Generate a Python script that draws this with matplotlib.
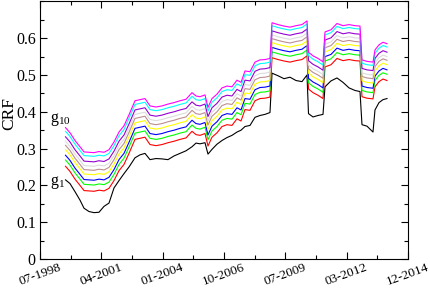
import matplotlib
matplotlib.use("Agg")
import matplotlib.pyplot as plt
import numpy as np
from matplotlib.ticker import MultipleLocator

# time axis (decimal years)
years = [1999.638, 1999.838, 2000.061, 2000.284, 2000.463, 2000.686, 2000.909, 2001.132,
         2001.355, 2001.578, 2001.801, 2002.024, 2002.247, 2002.470, 2002.738, 2002.961,
         2003.184, 2003.407, 2003.675, 2003.942, 2004.210, 2004.478, 2004.745, 2005.013,
         2005.281, 2005.459, 2005.638, 2005.861, 2005.994, 2006.173, 2006.396, 2006.619,
         2006.842, 2007.065, 2007.288, 2007.467, 2007.645, 2007.868, 2008.091, 2008.314,
         2008.537, 2008.760, 2008.850, 2009.117, 2009.385, 2009.653, 2009.920, 2010.188,
         2010.411, 2010.478, 2010.679, 2010.902, 2011.125, 2011.214, 2011.482, 2011.749,
         2012.017, 2012.284, 2012.552, 2012.775, 2012.864, 2013.087, 2013.355, 2013.444,
         2013.623, 2013.801, 2013.980]

g1 = [0.215, 0.205, 0.183, 0.160, 0.138, 0.129, 0.126, 0.127, 0.143, 0.152, 0.193, 0.213,
      0.232, 0.250, 0.275, 0.283, 0.287, 0.270, 0.273, 0.272, 0.270, 0.280, 0.287, 0.294,
      0.305, 0.315, 0.313, 0.316, 0.285, 0.298, 0.312, 0.322, 0.330, 0.336, 0.345, 0.350,
      0.360, 0.363, 0.385, 0.390, 0.393, 0.398, 0.505, 0.498, 0.490, 0.494, 0.485, 0.482,
      0.500, 0.395, 0.386, 0.390, 0.393, 0.468, 0.484, 0.492, 0.480, 0.465, 0.458, 0.455,
      0.365, 0.361, 0.345, 0.405, 0.425, 0.433, 0.436]

g2 = [0.252, 0.238, 0.217, 0.200, 0.186, 0.185, 0.184, 0.187, 0.185, 0.192, 0.213, 0.240,
      0.257, 0.287, 0.325, 0.328, 0.331, 0.311, 0.308, 0.311, 0.316, 0.320, 0.325, 0.329,
      0.347, 0.338, 0.336, 0.341, 0.307, 0.331, 0.343, 0.360, 0.365, 0.363, 0.381, 0.375,
      0.406, 0.404, 0.430, 0.436, 0.437, 0.440, 0.547, 0.542, 0.538, 0.535, 0.539, 0.542,
      0.552, 0.462, 0.452, 0.445, 0.436, 0.522, 0.528, 0.545, 0.539, 0.542, 0.539, 0.538,
      0.441, 0.437, 0.435, 0.468, 0.482, 0.489, 0.485]

g3 = [0.269, 0.255, 0.234, 0.217, 0.203, 0.202, 0.201, 0.204, 0.202, 0.209, 0.230, 0.257,
      0.274, 0.304, 0.342, 0.345, 0.348, 0.328, 0.325, 0.328, 0.333, 0.337, 0.342, 0.346,
      0.364, 0.355, 0.353, 0.358, 0.324, 0.348, 0.360, 0.377, 0.382, 0.380, 0.398, 0.392,
      0.423, 0.421, 0.447, 0.453, 0.454, 0.457, 0.563, 0.558, 0.554, 0.551, 0.555, 0.558,
      0.568, 0.479, 0.469, 0.462, 0.453, 0.538, 0.544, 0.561, 0.555, 0.558, 0.555, 0.554,
      0.458, 0.454, 0.452, 0.485, 0.499, 0.506, 0.502]

g4 = [0.282, 0.268, 0.247, 0.230, 0.216, 0.215, 0.214, 0.217, 0.215, 0.222, 0.243, 0.270,
      0.287, 0.317, 0.355, 0.358, 0.361, 0.341, 0.338, 0.341, 0.346, 0.350, 0.355, 0.359,
      0.377, 0.368, 0.366, 0.371, 0.337, 0.361, 0.373, 0.390, 0.395, 0.393, 0.411, 0.405,
      0.436, 0.434, 0.460, 0.466, 0.467, 0.470, 0.575, 0.570, 0.566, 0.563, 0.567, 0.570,
      0.580, 0.491, 0.481, 0.474, 0.465, 0.550, 0.556, 0.573, 0.567, 0.570, 0.567, 0.566,
      0.470, 0.466, 0.464, 0.497, 0.511, 0.518, 0.514]

g5 = [0.297, 0.283, 0.262, 0.245, 0.231, 0.230, 0.229, 0.232, 0.230, 0.237, 0.258, 0.285,
      0.302, 0.332, 0.370, 0.373, 0.376, 0.356, 0.353, 0.356, 0.361, 0.365, 0.370, 0.374,
      0.392, 0.383, 0.381, 0.386, 0.352, 0.376, 0.388, 0.405, 0.410, 0.408, 0.426, 0.420,
      0.451, 0.449, 0.475, 0.481, 0.482, 0.485, 0.588, 0.583, 0.579, 0.576, 0.580, 0.583,
      0.593, 0.505, 0.495, 0.488, 0.479, 0.563, 0.569, 0.586, 0.580, 0.583, 0.580, 0.579,
      0.484, 0.480, 0.478, 0.511, 0.525, 0.532, 0.528]

g6 = [0.309, 0.295, 0.274, 0.257, 0.243, 0.242, 0.241, 0.244, 0.242, 0.249, 0.270, 0.297,
      0.314, 0.344, 0.382, 0.385, 0.388, 0.368, 0.365, 0.368, 0.373, 0.377, 0.382, 0.386,
      0.404, 0.395, 0.393, 0.398, 0.364, 0.388, 0.400, 0.417, 0.422, 0.420, 0.438, 0.432,
      0.463, 0.461, 0.487, 0.493, 0.494, 0.497, 0.599, 0.594, 0.590, 0.587, 0.591, 0.594,
      0.604, 0.517, 0.507, 0.500, 0.491, 0.574, 0.580, 0.597, 0.591, 0.594, 0.591, 0.590,
      0.496, 0.492, 0.490, 0.523, 0.537, 0.544, 0.540]

g7 = [0.320, 0.306, 0.285, 0.268, 0.254, 0.253, 0.252, 0.255, 0.253, 0.260, 0.281, 0.308,
      0.325, 0.355, 0.393, 0.396, 0.399, 0.379, 0.376, 0.379, 0.384, 0.388, 0.393, 0.397,
      0.415, 0.406, 0.404, 0.409, 0.375, 0.399, 0.411, 0.428, 0.433, 0.431, 0.449, 0.443,
      0.474, 0.472, 0.498, 0.504, 0.505, 0.508, 0.609, 0.604, 0.600, 0.597, 0.601, 0.604,
      0.614, 0.527, 0.517, 0.510, 0.501, 0.584, 0.590, 0.607, 0.601, 0.604, 0.601, 0.600,
      0.506, 0.502, 0.500, 0.533, 0.547, 0.554, 0.550]

g8 = [0.332, 0.318, 0.297, 0.280, 0.266, 0.265, 0.264, 0.267, 0.265, 0.272, 0.293, 0.320,
      0.337, 0.367, 0.405, 0.408, 0.411, 0.391, 0.388, 0.391, 0.396, 0.400, 0.405, 0.409,
      0.427, 0.418, 0.416, 0.421, 0.387, 0.411, 0.423, 0.440, 0.445, 0.443, 0.461, 0.455,
      0.486, 0.484, 0.510, 0.516, 0.517, 0.520, 0.620, 0.615, 0.611, 0.608, 0.612, 0.615,
      0.625, 0.539, 0.529, 0.522, 0.513, 0.595, 0.601, 0.618, 0.612, 0.615, 0.612, 0.611,
      0.518, 0.514, 0.512, 0.545, 0.559, 0.566, 0.562]

g9 = [0.347, 0.333, 0.312, 0.295, 0.281, 0.280, 0.279, 0.282, 0.280, 0.287, 0.308, 0.335,
      0.352, 0.382, 0.420, 0.423, 0.426, 0.406, 0.403, 0.406, 0.411, 0.415, 0.420, 0.424,
      0.442, 0.433, 0.431, 0.436, 0.402, 0.426, 0.438, 0.455, 0.460, 0.458, 0.476, 0.470,
      0.501, 0.499, 0.525, 0.531, 0.532, 0.535, 0.634, 0.629, 0.625, 0.622, 0.626, 0.629,
      0.639, 0.553, 0.543, 0.536, 0.527, 0.609, 0.615, 0.632, 0.626, 0.629, 0.626, 0.625,
      0.532, 0.528, 0.526, 0.559, 0.573, 0.580, 0.576]

g10 = [0.357, 0.343, 0.322, 0.305, 0.291, 0.290, 0.289, 0.292, 0.290, 0.297, 0.318, 0.345,
       0.362, 0.392, 0.430, 0.433, 0.436, 0.416, 0.413, 0.416, 0.421, 0.425, 0.430, 0.434,
       0.452, 0.443, 0.441, 0.446, 0.412, 0.436, 0.448, 0.465, 0.470, 0.468, 0.486, 0.480,
       0.511, 0.509, 0.535, 0.541, 0.542, 0.545, 0.642, 0.637, 0.633, 0.630, 0.634, 0.637,
       0.647, 0.562, 0.552, 0.545, 0.536, 0.617, 0.623, 0.640, 0.634, 0.637, 0.634, 0.633,
       0.541, 0.537, 0.535, 0.568, 0.582, 0.589, 0.585]

tick_labels = ["07-1998", "04-2001", "01-2004", "10-2006", "07-2009", "03-2012", "12-2014"]

# xmgrace default colours
colors = ["black", "#ff0000", "#00ff00", "#0000ff", "#ffff00",
          "#bc8f8f", "#dcdcdc", "#9400d3", "#00ffff", "#ff00ff"]

plt.rcParams["font.family"] = ["Liberation Serif", "DejaVu Serif"]
plt.rcParams["mathtext.fontset"] = "custom"
plt.rcParams["mathtext.rm"] = "Liberation Serif"
plt.rcParams["mathtext.default"] = "regular"

fig = plt.figure(figsize=(4.31, 2.89), dpi=100)
ax = fig.add_axes([40 / 431, 1 - 259 / 289, 368 / 431, 257.6 / 289])

series = [g1, g2, g3, g4, g5, g6, g7, g8, g9, g10]
for vals, c in zip(series, colors):
    ax.plot(years, vals, color=c, lw=0.8)

x0, x1 = 1998.5, 2014.9167
ax.set_xlim(x0, x1)
ax.set_ylim(0, 0.7)

ticks = np.linspace(x0, x1, len(tick_labels))
ax.set_xticks(ticks)
ax.set_xticklabels(tick_labels, rotation=20, ha="center", fontsize=9.5)
ax.set_xticks((ticks[:-1] + ticks[1:]) / 2, minor=True)
ax.yaxis.set_minor_locator(MultipleLocator(0.05))
ax.set_yticks([0, 0.1, 0.2, 0.3, 0.4, 0.5, 0.6])
ax.set_yticklabels(["0", "0.1", "0.2", "0.3", "0.4", "0.5", "0.6"], fontsize=11.5)

ax.tick_params(which="both", direction="in", top=True, right=True, width=0.8)
ax.tick_params(which="major", length=5)
ax.tick_params(axis="x", which="major", pad=2)
ax.tick_params(axis="y", which="major", pad=3)
ax.tick_params(which="minor", length=3)
for s in ax.spines.values():
    s.set_linewidth(0.8)

ax.set_ylabel("CRF", fontsize=12.5)
ax.yaxis.set_label_coords(-0.062, 0.566)

# series labels
ax.text(1998.95, 0.372, "g$_{10}$", fontsize=11.5, va="baseline")
ax.text(1998.95, 0.200, "g$_{1}$", fontsize=11.5, va="baseline")

fig.savefig("out.png", dpi=100)
